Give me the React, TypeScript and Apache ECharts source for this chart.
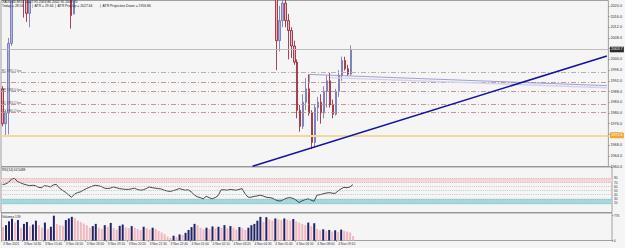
import React, { useEffect, useRef } from "react";
import * as echarts from "echarts";

// ---------- data ----------
const opens = [1989,1976,1980,2006,2031,2038,2034,2032,2027,2017.2,
  2025,2029,2028,2025,2024,2030,2029,2027.5,2033,2034,
  2030,2028,2025,2023,2017,2026,2028,2029,2032,2035,
  2038,2041,2043,2042,2040.5,2038,2037.5,2039,2041,2040,
  2038.5,2038,2037.5,2037.6,2038.2,2039.5,2037.8,2036.5,2037,2039,
  2041.5,2040.6,2040,2039.5,2039,2037.8,2037,2036.6,2037.4,2038.3,
  2039.6,2038.8,2038,2038.5,2035.5,2031,2028,2027,2025,2028,
  2026.5,2024.5,2026,2028.5,2037,2037.5,2037,2038.5,2038,2037.5,
  2038.6,2039.8,2033,2029,2028.8,2029.8,2030.4,2031.5,2030,2028,
  2027.4,2026.8,2024,2007,2014.5,2021,2014.5,2010.8,2005,1999,
  1981,1975,1984,1989,1980,1969,1982,1984,1980,1988,
  1992,1983,1979.5,1988,1994,1999.6,1996.5,1994.5];
const closes = [1976,1980,2006,2031,2038,2034,2032,2027,2017.2,2025,
  2029,2028,2025,2024,2030,2029,2027.5,2033,2034,2030,
  2028,2025,2023,2016.4,2026,2028,2029,2032,2035,2038,
  2041,2043,2042,2040.5,2038,2037.5,2039,2041,2040,2038.5,
  2038,2037.5,2037.6,2038.2,2039.5,2037.8,2036.5,2037,2039,2041.5,
  2040.6,2040,2039.5,2039,2037.8,2037,2036.6,2037.4,2038.3,2039.6,
  2038.8,2038,2038.5,2035.5,2031,2028,2027,2025,2028,2026.5,
  2024.5,2026,2028.5,2037,2037.5,2037,2038.5,2038,2037.5,2038.6,
  2039.8,2033,2029,2028.8,2029.8,2030.4,2031.5,2030,2028,2027.4,
  2026.8,2024,2007,2014.5,2021,2014.5,2010.8,2005,1999,1981,
  1975,1984,1989,1980,1969,1982,1984,1980,1988,1992,
  1983,1979.5,1988,1994,1999.6,1996.5,1994.5,2003.7];
const highs = [1990,1981,2008,2034,2040,2041,2036,2033,2028,2026,
  2031,2032,2030,2027,2031,2032,2030,2035,2036,2035,
  2031,2029,2026,2024,2027,2030,2031,2033,2036,2039,
  2042,2045,2044,2043,2041,2039,2040,2042,2042,2041,
  2039.5,2039,2038.5,2039,2040,2040,2038.5,2037.8,2039.5,2042,
  2042.2,2041.2,2040.8,2040,2039.4,2038.2,2037.4,2037.8,2038.6,2040,
  2040.1,2039.2,2039,2038.9,2036,2031.8,2029,2028,2029,2029,
  2027,2027,2029,2038,2039,2038.5,2039.5,2039.5,2038.8,2039.4,
  2041,2040.2,2034,2030.5,2031,2031.5,2032.5,2032,2030.6,2029,
  2028.2,2027.5,2025,2020,2025,2024,2017,2012,2007,2000,
  1983,1987,1993,1994.4,1981,1983,1986,1987,1990,1994,
  1995,1985,1989,1996,2001,2001,1998,2005.2];
const lows = [1975,1971.6,1972,2005,2029,2032,2029,2015.6,2014,2012,
  2024,2026,2023.5,2023,2023.5,2027,2025,2026,2031,2029,
  2026,2023,2022.6,2011.5,2016.8,2025,2027,2028,2031,2034,
  2037,2040,2040,2039,2036,2036,2036.5,2038,2039,2037.5,
  2037,2036.5,2036.5,2037,2037.8,2037,2036,2035.8,2036.5,2038.5,
  2040,2039.5,2039,2038.5,2037.5,2036.6,2036.2,2036.3,2037,2038,
  2038.4,2037.6,2037.5,2035,2030,2027,2026,2024,2024.5,2025.5,
  2023.5,2023.8,2025.5,2028,2035.5,2036,2036.5,2037,2036.8,2037,
  2038.2,2032,2028,2027.5,2028,2029,2029.8,2029,2027.2,2026.5,
  2025.8,2023,1996,2003,2012,2012,2000,2000.5,1998,1978,
  1973,1974,1981,1979,1966.5,1967,1977,1976,1978,1982,
  1982,1978,1979,1986,1992,1995.8,1993.8,1994];
const rsi = [65,66,70,78,80,72,69,66,64,62,
  63,62,58,57,62,61,59,64,65,56,
  51,46,40,34,41,45,47,51,55,58,
  61,63,62,60,56,55,56,59,57,55,
  54,53,53,54,56,53,51,52,55,59,
  57,56,55,54,51,49,48,50,52,55,
  53,51,52,47,40,35,33,30,36,33,
  30,33,38,52,52,51,53,52,51,53,
  55,42,34,34,36,37,39,37,34,33,
  32,28,25,25,29,32,33,31,27,21,
  25,28,30,27,24,39,40,42,44,45,
  44,43,49,54,58,57,59,64.5488];
const volumes = [420,480,600,680,560,640,400,520,580,450,
  500,620,480,400,560,360,430,776,520,480,
  460,640,690,740,700,620,580,530,480,400,
  450,520,400,360,480,430,550,390,340,460,
  500,410,380,450,400,360,320,430,380,340,
  400,360,300,250,200,120,80,150,110,190,
  170,240,330,420,520,480,400,350,400,360,
  440,380,430,400,480,380,450,400,340,420,
  380,330,400,480,520,620,740,580,730,660,
  620,690,660,640,690,650,620,670,600,560,
  520,480,560,450,540,360,320,350,300,330,
  280,320,270,340,300,280,250,139];
const timeLabels = ["3 Nov 2021","3 Nov 14:30","3 Nov 15:40","3 Nov 16:50","3 Nov 18:00",
  "3 Nov 19:10","3 Nov 20:20","3 Nov 21:30","3 Nov 22:40","4 Nov 01:00","4 Nov 02:10",
  "4 Nov 03:20","4 Nov 04:30","4 Nov 05:40","4 Nov 06:50","4 Nov 08:00","4 Nov 09:10"];
const LABEL_STEP = 7;
const SLOTS = 204;

const currentPrice = 2003.7;
const supportLine = 1971.6;
const pivotLevels = [1995.1, 1991.4, 1988.0, 1983.2, 1980.2];
const pivotNames = ["R1", "", "PP", "S1", "S2"];
const trendStart = [84, 1960.1];
const trendEnd = [203, 2001.3];
const maLine = [[103, 1991], [103, 1994.4], [203, 1990.2]];
const maLine2 = [[110, 1993.2], [203, 1989.4]];
const rsiLevels = [80, 70, 60, 50, 40, 30, 20];
const header1 = "XAUUSD,M10  2002.95 2003.80 2002.90 2003.70";
const header2 = ["Today = 28.56", "|  ATR = 29.64", "|  ATR Proj Up = 2027.64", "|  ATR Projection Down = 1956.86"];

const FONT = "Liberation Sans, Arial, sans-serif";

export default function App() {
  const ref = useRef<HTMLDivElement>(null);
  useEffect(() => {
    if (!ref.current) return;
    const chart = echarts.init(ref.current, null, { renderer: "svg" });
    const cats = Array.from({ length: SLOTS }, (_, i) => String(i));
    const showTick = (i: number) => i % LABEL_STEP === 0 && i < LABEL_STEP * timeLabels.length;
    const small = { fontFamily: FONT, fontWeight: "normal" as const, color: "#222" };

    const pivotLines = pivotLevels.map((v, k) => ({
      yAxis: v,
      lineStyle: { color: k === 0 ? "#aaaaaa" : "#c48a8a", width: 0.9, type: [5, 2, 1, 2] },
      label: pivotNames[k]
        ? { show: true, position: "insideStartTop", distance: [1, 0.5], formatter: `${pivotNames[k]} ${v.toFixed(1)} line`, fontSize: 3, color: "#555", fontFamily: FONT }
        : { show: false },
    }));

    const option: any = {
      animation: false,
      backgroundColor: "#f5f5f5",
      textStyle: { fontFamily: FONT },
      title: [
        { text: header1, left: 2, top: 0.5, padding: 0, textStyle: { ...small, fontSize: 3.4 } },
        { text: header2[0], left: 2, top: 4.5, padding: 0, textStyle: { ...small, fontSize: 3.4 } },
        { text: header2[1], left: 32, top: 4.5, padding: 0, textStyle: { ...small, fontSize: 3.4 } },
        { text: header2[2], left: 55, top: 4.5, padding: 0, textStyle: { ...small, fontSize: 3.4 } },
        { text: header2[3], left: 100, top: 4.5, padding: 0, textStyle: { ...small, fontSize: 3.4 } },
        { text: `RSI(14) ${rsi[rsi.length - 1]}`, left: 2, top: 168.5, padding: 0, textStyle: { ...small, fontSize: 3.2 } },
        { text: `Volumes ${volumes[volumes.length - 1]}`, left: 2, top: 215, padding: 0, textStyle: { ...small, fontSize: 3.2 } },
      ],
      grid: [
        { left: 1, right: 13, top: 0.5, height: 166, show: true, borderColor: "#8a8a8a", borderWidth: 0.8, backgroundColor: "transparent" },
        { left: 1, right: 13, top: 167, height: 45.5, show: true, borderColor: "#8a8a8a", borderWidth: 0.8, backgroundColor: "transparent" },
        { left: 1, right: 13, top: 213, height: 27.5, show: true, borderColor: "#8a8a8a", borderWidth: 0.8, backgroundColor: "transparent" },
      ],
      xAxis: [0, 1, 2].map((g) => ({
        type: "category",
        gridIndex: g,
        data: cats,
        boundaryGap: true,
        axisLine: { show: false },
        axisTick: { show: g === 2, interval: (i: number) => showTick(i), length: 1.5, lineStyle: { color: "#777", width: 0.6 } },
        axisLabel: {
          show: g === 2,
          interval: (i: number) => showTick(i),
          formatter: (v: string) => {
            const i = Number(v);
            return showTick(i) ? timeLabels[i / LABEL_STEP] : "";
          },
          fontSize: 3.2,
          color: "#333",
          align: "left",
          margin: 2,
          fontFamily: FONT,
        },
        splitLine: { show: false },
      })),
      yAxis: [
        {
          type: "value", gridIndex: 0, position: "right", min: 1960, max: 2022, interval: 4,
          axisLine: { show: false },
          axisTick: { show: true, length: 1.5, lineStyle: { color: "#777", width: 0.6 } },
          axisLabel: { fontSize: 3.8, color: "#333", margin: 2, showMaxLabel: false, formatter: (v: number) => v.toFixed(1), fontFamily: FONT },
          splitLine: { show: false },
        },
        {
          type: "value", gridIndex: 1, position: "right", min: -3.2, max: 107.4,
          axisLine: { show: false }, axisTick: { show: false }, axisLabel: { show: false }, splitLine: { show: false },
        },
        {
          type: "value", gridIndex: 2, position: "right", min: 0, max: 860, interval: 776,
          axisLine: { show: false },
          axisTick: { show: true, length: 1.5, lineStyle: { color: "#777", width: 0.6 } },
          axisLabel: { fontSize: 3.2, color: "#333", margin: 2, showMaxLabel: false, fontFamily: FONT },
          splitLine: { show: false },
        },
      ],
      series: [
        {
          type: "candlestick",
          xAxisIndex: 0,
          yAxisIndex: 0,
          clip: true,
          barWidth: 2,
          data: opens.map((o, i) => [o, closes[i], lows[i], highs[i]]),
          itemStyle: { color: "#b3b4de", color0: "#f0b2bb", borderColor: "#6c6cae", borderColor0: "#8e1c2a", borderWidth: 0.8 },
          markLine: {
            silent: true,
            symbol: ["none", "none"],
            animation: false,
            data: [
              ...pivotLines,
              {
                yAxis: currentPrice,
                lineStyle: { color: "#b5b5b5", width: 0.9, type: "solid" },
                label: { show: true, position: "end", distance: 1.5, formatter: currentPrice.toFixed(1), fontSize: 3.8, color: "#fff", backgroundColor: "#2a2a2a", padding: [0.8, 1.2], fontFamily: FONT },
              },
              {
                yAxis: supportLine,
                lineStyle: { color: "#f2d7a0", width: 2, type: "solid" },
                label: { show: true, position: "end", distance: 1.5, formatter: supportLine.toFixed(1), fontSize: 3.8, color: "#fff", backgroundColor: "#f0a830", padding: [0.8, 1.2], fontFamily: FONT },
              },
              [
                { coord: maLine2[0], lineStyle: { color: "#d2d2f0", width: 1.4, type: "solid" }, label: { show: false } },
                { coord: maLine2[1] },
              ],
              [
                { coord: maLine[0], lineStyle: { color: "#8a8ac6", width: 0.8, type: "solid" }, label: { show: false } },
                { coord: maLine[1] },
              ],
              [
                { coord: maLine[1], lineStyle: { color: "#8a8ac6", width: 0.8, type: "solid" }, label: { show: false } },
                { coord: maLine[2] },
              ],
              [
                { coord: trendStart, lineStyle: { color: "#1414a0", width: 1.6, type: "solid" }, label: { show: false } },
                { coord: trendEnd },
              ],
            ],
          },
        },
        {
          type: "line",
          xAxisIndex: 1,
          yAxisIndex: 1,
          data: rsi,
          showSymbol: false,
          symbol: "none",
          lineStyle: { color: "#333333", width: 0.9 },
          markArea: {
            silent: true,
            data: [
              [{ yAxis: 70, itemStyle: { color: "#f8d4d7" } }, { yAxis: 80 }],
              [{ yAxis: 17, itemStyle: { color: "#a3d9de" } }, { yAxis: 30 }],
            ],
          },
          markLine: {
            silent: true,
            symbol: ["none", "none"],
            animation: false,
            data: [
              ...rsiLevels.map((v) => ({
                yAxis: v,
                lineStyle: { color: "#a8a8a8", width: 0.6, type: [1, 1.2] },
                label: { show: true, position: "end", distance: 2, formatter: String(v), fontSize: 3.2, color: "#333", fontFamily: FONT },
              })),
              ...[100, 0].map((v) => ({
                yAxis: v,
                lineStyle: { opacity: 0 },
                label: { show: true, position: "end", distance: 2, formatter: String(v), fontSize: 3.2, color: "#333", fontFamily: FONT },
              })),
            ],
          },
        },
        {
          type: "bar",
          xAxisIndex: 2,
          yAxisIndex: 2,
          barWidth: 2,
          data: volumes.map((v, i) => ({
            value: v,
            itemStyle: { color: i > 0 && v > volumes[i - 1] ? "#23236a" : "#f2b6bf" },
          })),
        },
      ],
    };
    chart.setOption(option);
    return () => chart.dispose();
  }, []);
  return <div ref={ref} style={{ position: "fixed", left: 0, top: 0, width: 625, height: 248 }} />;
}
